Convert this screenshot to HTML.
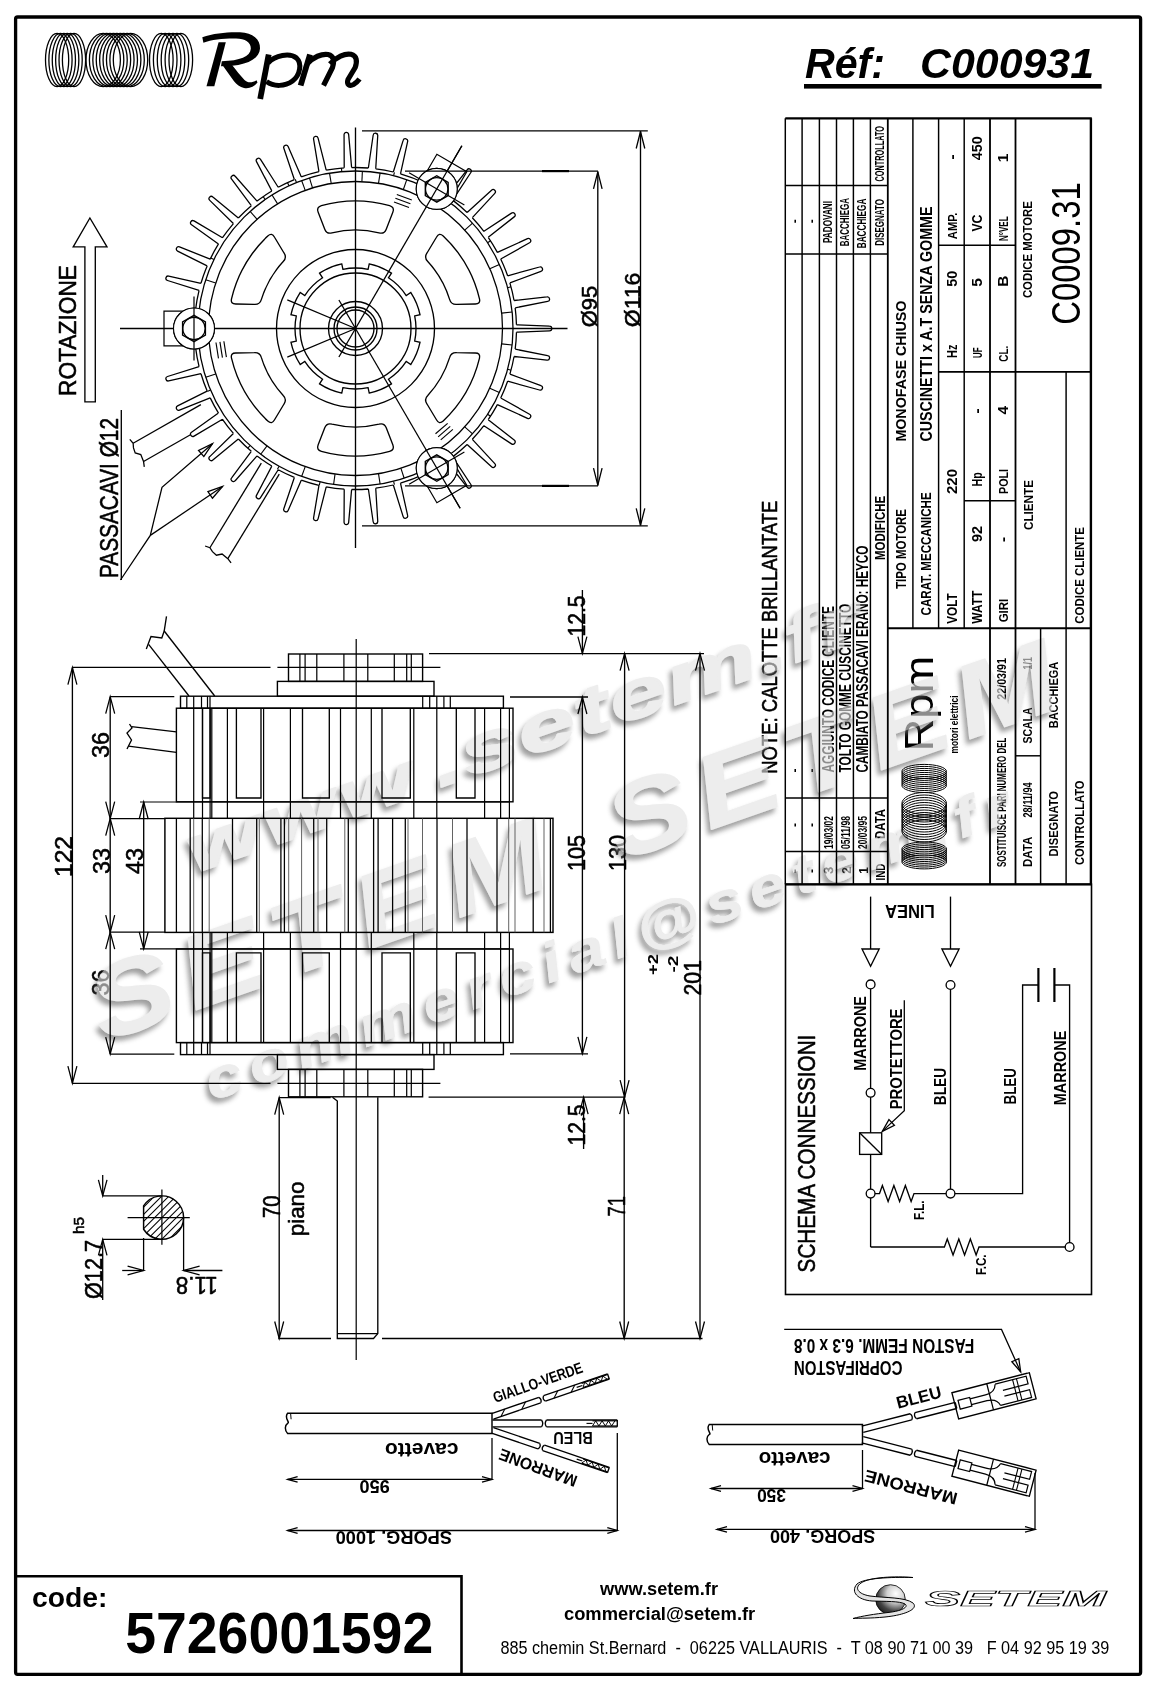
<!DOCTYPE html>
<html><head><meta charset="utf-8"><style>
html,body{margin:0;padding:0;background:#fff;}
body{width:1158px;height:1690px;overflow:hidden;}
svg{display:block;font-family:"Liberation Sans",sans-serif;will-change:transform;}
text{white-space:pre;}
</style></head><body>
<svg width="1158" height="1690" viewBox="0 0 1158 1690">
<defs>
<filter id="wm" x="-5%" y="-8%" width="110%" height="120%">
<feGaussianBlur in="SourceAlpha" stdDeviation="2.5" result="b"/>
<feOffset in="b" dx="-3" dy="4.5" result="o"/>
<feFlood flood-color="#646464"/>
<feComposite in2="o" operator="in" result="s"/>
<feGaussianBlur in="SourceGraphic" stdDeviation="0.5" result="g"/>
<feMerge><feMergeNode in="s"/><feMergeNode in="g"/></feMerge>
</filter>
</defs>
<rect width="1158" height="1690" fill="#fff"/>
<g>
<text x="805" y="78.3" font-size="42" font-weight="bold" font-style="italic" textLength="80" lengthAdjust="spacingAndGlyphs" fill="#000" stroke="none">Réf:</text>
<text x="920" y="78.3" font-size="42" font-weight="bold" font-style="italic" textLength="174" lengthAdjust="spacingAndGlyphs" fill="#000" stroke="none">C000931</text>
<text x="32" y="1606.7" font-size="28" font-weight="bold" textLength="75.4" lengthAdjust="spacingAndGlyphs" fill="#000" stroke="none">code:</text>
<text x="125.2" y="1653.2" font-size="58" font-weight="bold" textLength="308" lengthAdjust="spacingAndGlyphs" fill="#000" stroke="none">5726001592</text>
<text x="659" y="1594.9" font-size="18" font-weight="bold" text-anchor="middle" textLength="118" lengthAdjust="spacingAndGlyphs" fill="#000" stroke="none">www.setem.fr</text>
<text x="659.6" y="1619.7" font-size="18" font-weight="bold" text-anchor="middle" textLength="191.3" lengthAdjust="spacingAndGlyphs" fill="#000" stroke="none">commercial@setem.fr</text>
<text x="500.4" y="1654" font-size="18" textLength="609" lengthAdjust="spacingAndGlyphs" fill="#000" stroke="none">885 chemin St.Bernard  -  06225 VALLAURIS  -  T 08 90 71 00 39   F 04 92 95 19 39</text>
<text transform="translate(596.7 327.2) rotate(-90)" font-size="22" textLength="41.4" lengthAdjust="spacingAndGlyphs" fill="#000" stroke="#000" stroke-width="0.55" stroke-linejoin="round">Ø95</text>
<text transform="translate(639.5 327.2) rotate(-90)" font-size="22" textLength="54.5" lengthAdjust="spacingAndGlyphs" fill="#000" stroke="#000" stroke-width="0.55" stroke-linejoin="round">Ø116</text>
<text transform="translate(75.8 396) rotate(-90)" font-size="24.5" textLength="131" lengthAdjust="spacingAndGlyphs" fill="#000" stroke="#000" stroke-width="0.55" stroke-linejoin="round">ROTAZIONE</text>
<text transform="translate(117.5 578) rotate(-90)" font-size="25" textLength="160" lengthAdjust="spacingAndGlyphs" fill="#000" stroke="#000" stroke-width="0.55" stroke-linejoin="round">PASSACAVI Ø12</text>
<text transform="translate(799 221.2) rotate(-90)" font-size="12" font-weight="bold" text-anchor="middle" fill="#000" stroke="none">-</text>
<text transform="translate(816 221.2) rotate(-90)" font-size="12" font-weight="bold" text-anchor="middle" fill="#000" stroke="none">-</text>
<text transform="translate(832 243) rotate(-90)" font-size="12" font-weight="bold" textLength="42" lengthAdjust="spacingAndGlyphs" fill="#000" stroke="none">PADOVANI</text>
<text transform="translate(849.2 246.3) rotate(-90)" font-size="12.2" font-weight="bold" textLength="48.3" lengthAdjust="spacingAndGlyphs" fill="#000" stroke="none">BACCHIEGA</text>
<text transform="translate(866.2 248.3) rotate(-90)" font-size="12.2" font-weight="bold" textLength="49.7" lengthAdjust="spacingAndGlyphs" fill="#000" stroke="none">BACCHIEGA</text>
<text transform="translate(883.8 245.8) rotate(-90)" font-size="13" font-weight="bold" textLength="46.8" lengthAdjust="spacingAndGlyphs" fill="#000" stroke="none">DISEGNATO</text>
<text transform="translate(883.8 181.5) rotate(-90)" font-size="13.5" font-weight="bold" textLength="55.5" lengthAdjust="spacingAndGlyphs" fill="#000" stroke="none">CONTROLLATO</text>
<text transform="translate(799 770.5) rotate(-90)" font-size="12" font-weight="bold" text-anchor="middle" fill="#000" stroke="none">-</text>
<text transform="translate(799 825) rotate(-90)" font-size="12" font-weight="bold" text-anchor="middle" fill="#000" stroke="none">-</text>
<text transform="translate(799 871) rotate(-90)" font-size="12" font-weight="bold" text-anchor="middle" fill="#000" stroke="none">-</text>
<text transform="translate(816 770.5) rotate(-90)" font-size="12" font-weight="bold" text-anchor="middle" fill="#000" stroke="none">-</text>
<text transform="translate(816 825) rotate(-90)" font-size="12" font-weight="bold" text-anchor="middle" fill="#000" stroke="none">-</text>
<text transform="translate(816 871) rotate(-90)" font-size="12" font-weight="bold" text-anchor="middle" fill="#000" stroke="none">-</text>
<text transform="translate(833.7 772.5) rotate(-90)" font-size="15.8" font-weight="bold" textLength="166.3" lengthAdjust="spacingAndGlyphs" fill="#000" stroke="none">AGGIUNTO CODICE CLIENTE</text>
<text transform="translate(850.7 772.5) rotate(-90)" font-size="15.8" font-weight="bold" textLength="168.7" lengthAdjust="spacingAndGlyphs" fill="#000" stroke="none">TOLTO GOMME CUSCINETTO</text>
<text transform="translate(867.7 772.5) rotate(-90)" font-size="15.8" font-weight="bold" textLength="227" lengthAdjust="spacingAndGlyphs" fill="#000" stroke="none">CAMBIATO PASSACAVI ERANO: HEYCO</text>
<text transform="translate(884.7 560) rotate(-90)" font-size="15.2" font-weight="bold" textLength="64.2" lengthAdjust="spacingAndGlyphs" fill="#000" stroke="none">MODIFICHE</text>
<text transform="translate(833 849) rotate(-90)" font-size="12" font-weight="bold" textLength="33" lengthAdjust="spacingAndGlyphs" fill="#000" stroke="none">19/03/02</text>
<text transform="translate(850 849) rotate(-90)" font-size="12" font-weight="bold" textLength="33" lengthAdjust="spacingAndGlyphs" fill="#000" stroke="none">05/11/98</text>
<text transform="translate(867 849) rotate(-90)" font-size="12" font-weight="bold" textLength="33" lengthAdjust="spacingAndGlyphs" fill="#000" stroke="none">20/03/95</text>
<text transform="translate(884.7 839) rotate(-90)" font-size="15" font-weight="bold" textLength="30" lengthAdjust="spacingAndGlyphs" fill="#000" stroke="none">DATA</text>
<text transform="translate(833.3 870.5) rotate(-90)" font-size="12" text-anchor="middle" fill="#000" stroke="#000" stroke-width="0.55" stroke-linejoin="round">3</text>
<text transform="translate(850.5 870.5) rotate(-90)" font-size="12" font-weight="bold" text-anchor="middle" fill="#000" stroke="none">2</text>
<text transform="translate(867.5 870.5) rotate(-90)" font-size="12" font-weight="bold" text-anchor="middle" fill="#000" stroke="none">1</text>
<text transform="translate(884.7 880.5) rotate(-90)" font-size="13.5" font-weight="bold" textLength="17" lengthAdjust="spacingAndGlyphs" fill="#000" stroke="none">IND</text>
<text transform="translate(905.7 441.6) rotate(-90)" font-size="15.1" font-weight="bold" textLength="141" lengthAdjust="spacingAndGlyphs" fill="#000" stroke="none">MONOFASE CHIUSO</text>
<text transform="translate(905.7 589) rotate(-90)" font-size="15.1" font-weight="bold" textLength="80" lengthAdjust="spacingAndGlyphs" fill="#000" stroke="none">TIPO MOTORE</text>
<text transform="translate(932.2 441.6) rotate(-90)" font-size="16.6" font-weight="bold" textLength="235" lengthAdjust="spacingAndGlyphs" fill="#000" stroke="none">CUSCINETTI x A.T SENZA GOMME</text>
<text transform="translate(930.8 615.4) rotate(-90)" font-size="14" font-weight="bold" textLength="123" lengthAdjust="spacingAndGlyphs" fill="#000" stroke="none">CARAT. MECCANICHE</text>
<text transform="translate(956.5 623.7) rotate(-90)" font-size="15.5" font-weight="bold" textLength="30.4" lengthAdjust="spacingAndGlyphs" fill="#000" stroke="none">VOLT</text>
<text transform="translate(956.5 494) rotate(-90)" font-size="15.5" font-weight="bold" textLength="25" lengthAdjust="spacingAndGlyphs" fill="#000" stroke="none">220</text>
<text transform="translate(956.5 358) rotate(-90)" font-size="14" font-weight="bold" textLength="13.4" lengthAdjust="spacingAndGlyphs" fill="#000" stroke="none">Hz</text>
<text transform="translate(956.5 286.7) rotate(-90)" font-size="15.5" font-weight="bold" textLength="16" lengthAdjust="spacingAndGlyphs" fill="#000" stroke="none">50</text>
<text transform="translate(956.5 239.2) rotate(-90)" font-size="13.5" font-weight="bold" textLength="26.6" lengthAdjust="spacingAndGlyphs" fill="#000" stroke="none">AMP.</text>
<text transform="translate(956.5 157) rotate(-90)" font-size="15.5" font-weight="bold" text-anchor="middle" fill="#000" stroke="none">-</text>
<text transform="translate(982.3 623.7) rotate(-90)" font-size="14" font-weight="bold" textLength="33" lengthAdjust="spacingAndGlyphs" fill="#000" stroke="none">WATT</text>
<text transform="translate(982.3 542) rotate(-90)" font-size="15.5" font-weight="bold" textLength="16" lengthAdjust="spacingAndGlyphs" fill="#000" stroke="none">92</text>
<text transform="translate(982.3 486.5) rotate(-90)" font-size="14" font-weight="bold" textLength="14.3" lengthAdjust="spacingAndGlyphs" fill="#000" stroke="none">Hp</text>
<text transform="translate(982.3 411) rotate(-90)" font-size="15.5" font-weight="bold" text-anchor="middle" fill="#000" stroke="none">-</text>
<text transform="translate(982.3 358) rotate(-90)" font-size="13" font-weight="bold" textLength="10.5" lengthAdjust="spacingAndGlyphs" fill="#000" stroke="none">UF</text>
<text transform="translate(982.3 286.7) rotate(-90)" font-size="15.5" font-weight="bold" fill="#000" stroke="none">5</text>
<text transform="translate(982.3 231.6) rotate(-90)" font-size="14" font-weight="bold" textLength="17" lengthAdjust="spacingAndGlyphs" fill="#000" stroke="none">VC</text>
<text transform="translate(982.3 160.3) rotate(-90)" font-size="15.5" font-weight="bold" textLength="24" lengthAdjust="spacingAndGlyphs" fill="#000" stroke="none">450</text>
<text transform="translate(1007.5 622.3) rotate(-90)" font-size="13.5" font-weight="bold" textLength="23.5" lengthAdjust="spacingAndGlyphs" fill="#000" stroke="none">GIRI</text>
<text transform="translate(1007.5 539.4) rotate(-90)" font-size="15.5" font-weight="bold" text-anchor="middle" fill="#000" stroke="none">-</text>
<text transform="translate(1007.5 494) rotate(-90)" font-size="13.5" font-weight="bold" textLength="25" lengthAdjust="spacingAndGlyphs" fill="#000" stroke="none">POLI</text>
<text transform="translate(1007.5 414.5) rotate(-90)" font-size="15.5" font-weight="bold" fill="#000" stroke="none">4</text>
<text transform="translate(1007.5 361.7) rotate(-90)" font-size="13" font-weight="bold" textLength="16" lengthAdjust="spacingAndGlyphs" fill="#000" stroke="none">CL.</text>
<text transform="translate(1007.5 286.7) rotate(-90)" font-size="15.5" font-weight="bold" fill="#000" stroke="none">B</text>
<text transform="translate(1007.5 241) rotate(-90)" font-size="12.5" font-weight="bold" textLength="24.6" lengthAdjust="spacingAndGlyphs" fill="#000" stroke="none">N°VEL</text>
<text transform="translate(1007.5 162.2) rotate(-90)" font-size="15.5" font-weight="bold" fill="#000" stroke="none">1</text>
<text transform="translate(1032.8 530) rotate(-90)" font-size="13.5" font-weight="bold" textLength="50" lengthAdjust="spacingAndGlyphs" fill="#000" stroke="none">CLIENTE</text>
<text transform="translate(1084 623.7) rotate(-90)" font-size="13.5" font-weight="bold" textLength="96.7" lengthAdjust="spacingAndGlyphs" fill="#000" stroke="none">CODICE CLIENTE</text>
<text transform="translate(1032.2 298.1) rotate(-90)" font-size="12.8" font-weight="bold" textLength="97" lengthAdjust="spacingAndGlyphs" fill="#000" stroke="none">CODICE MOTORE</text>
<text transform="translate(1079.6 324.7) rotate(-90)" font-size="40" textLength="142.5" lengthAdjust="spacingAndGlyphs" fill="#000" stroke="none">C0009.31</text>
<text transform="translate(1006.3 867) rotate(-90)" font-size="12.3" font-weight="bold" textLength="129.3" lengthAdjust="spacingAndGlyphs" fill="#000" stroke="none">SOSTITUISCE PARI NUMERO DEL</text>
<text transform="translate(1006.3 699.8) rotate(-90)" font-size="12.3" font-weight="bold" textLength="41.8" lengthAdjust="spacingAndGlyphs" fill="#000" stroke="none">22/03/91</text>
<text transform="translate(1032 743.5) rotate(-90)" font-size="12.5" font-weight="bold" textLength="36.1" lengthAdjust="spacingAndGlyphs" fill="#000" stroke="none">SCALA</text>
<text transform="translate(1032 669.4) rotate(-90)" font-size="12.5" font-weight="bold" textLength="12.4" lengthAdjust="spacingAndGlyphs" fill="#000" stroke="none">1/1</text>
<text transform="translate(1032 867) rotate(-90)" font-size="12.5" font-weight="bold" textLength="30.4" lengthAdjust="spacingAndGlyphs" fill="#000" stroke="none">DATA</text>
<text transform="translate(1032 817.6) rotate(-90)" font-size="12.5" font-weight="bold" textLength="35.2" lengthAdjust="spacingAndGlyphs" fill="#000" stroke="none">28/11/94</text>
<text transform="translate(1057.8 728.3) rotate(-90)" font-size="12.5" font-weight="bold" textLength="66.5" lengthAdjust="spacingAndGlyphs" fill="#000" stroke="none">BACCHIEGA</text>
<text transform="translate(1057.8 856.5) rotate(-90)" font-size="12.5" font-weight="bold" textLength="65.5" lengthAdjust="spacingAndGlyphs" fill="#000" stroke="none">DISEGNATO</text>
<text transform="translate(1083.5 865) rotate(-90)" font-size="12.5" font-weight="bold" textLength="84.5" lengthAdjust="spacingAndGlyphs" fill="#000" stroke="none">CONTROLLATO</text>
<text transform="translate(776.7 773.7) rotate(-90)" font-size="22.8" textLength="273" lengthAdjust="spacingAndGlyphs" fill="#000" stroke="#000" stroke-width="0.55" stroke-linejoin="round">NOTE: CALOTTE BRILLANTATE</text>
<text transform="translate(932.5 751.5) rotate(-90)" font-size="41" textLength="96" lengthAdjust="spacingAndGlyphs" fill="#000" stroke="none">Rpm</text>
<text transform="translate(958 753.5) rotate(-90)" font-size="10" font-weight="bold" textLength="58" lengthAdjust="spacingAndGlyphs" fill="#000" stroke="none">motori elettrici</text>
<text transform="translate(71.5 877) rotate(-90)" font-size="24.5" textLength="41" lengthAdjust="spacingAndGlyphs" fill="#000" stroke="#000" stroke-width="0.55" stroke-linejoin="round">122</text>
<text transform="translate(109 758) rotate(-90)" font-size="24" textLength="26" lengthAdjust="spacingAndGlyphs" fill="#000" stroke="#000" stroke-width="0.55" stroke-linejoin="round">36</text>
<text transform="translate(109.5 874) rotate(-90)" font-size="24" textLength="26" lengthAdjust="spacingAndGlyphs" fill="#000" stroke="#000" stroke-width="0.55" stroke-linejoin="round">33</text>
<text transform="translate(109 995.5) rotate(-90)" font-size="24" textLength="26" lengthAdjust="spacingAndGlyphs" fill="#000" stroke="#000" stroke-width="0.55" stroke-linejoin="round">36</text>
<text transform="translate(142.6 874) rotate(-90)" font-size="24" textLength="26" lengthAdjust="spacingAndGlyphs" fill="#000" stroke="#000" stroke-width="0.55" stroke-linejoin="round">43</text>
<text transform="translate(585.2 871) rotate(-90)" font-size="24" textLength="36" lengthAdjust="spacingAndGlyphs" fill="#000" stroke="#000" stroke-width="0.55" stroke-linejoin="round">105</text>
<text transform="translate(625.8 871) rotate(-90)" font-size="24" textLength="36" lengthAdjust="spacingAndGlyphs" fill="#000" stroke="#000" stroke-width="0.55" stroke-linejoin="round">130</text>
<text transform="translate(584.8 636.5) rotate(-90)" font-size="24" textLength="41" lengthAdjust="spacingAndGlyphs" fill="#000" stroke="#000" stroke-width="0.55" stroke-linejoin="round">12.5</text>
<text transform="translate(701 995.5) rotate(-90)" font-size="24" textLength="35.5" lengthAdjust="spacingAndGlyphs" fill="#000" stroke="#000" stroke-width="0.55" stroke-linejoin="round">201</text>
<text transform="translate(657.8 975) rotate(-90)" font-size="15" font-weight="bold" textLength="21" lengthAdjust="spacingAndGlyphs" fill="#000" stroke="none">+2</text>
<text transform="translate(678 972.5) rotate(-90)" font-size="15" font-weight="bold" textLength="17" lengthAdjust="spacingAndGlyphs" fill="#000" stroke="none">-2</text>
<text transform="translate(584.8 1145.5) rotate(-90)" font-size="24" textLength="41" lengthAdjust="spacingAndGlyphs" fill="#000" stroke="#000" stroke-width="0.55" stroke-linejoin="round">12.5</text>
<text transform="translate(625.4 1216.5) rotate(-90)" font-size="24" textLength="20.5" lengthAdjust="spacingAndGlyphs" fill="#000" stroke="#000" stroke-width="0.55" stroke-linejoin="round">71</text>
<text transform="translate(280.4 1218) rotate(-90)" font-size="24" textLength="22.5" lengthAdjust="spacingAndGlyphs" fill="#000" stroke="#000" stroke-width="0.55" stroke-linejoin="round">70</text>
<text transform="translate(303.5 1236.3) rotate(-90)" font-size="22.5" textLength="54.8" lengthAdjust="spacingAndGlyphs" fill="#000" stroke="#000" stroke-width="0.55" stroke-linejoin="round">piano</text>
<text transform="translate(102 1299) rotate(-90)" font-size="24" textLength="59" lengthAdjust="spacingAndGlyphs" fill="#000" stroke="#000" stroke-width="0.55" stroke-linejoin="round">Ø12.7</text>
<text transform="translate(84 1234) rotate(-90)" font-size="15" textLength="17" lengthAdjust="spacingAndGlyphs" fill="#000" stroke="#000" stroke-width="0.55" stroke-linejoin="round">h5</text>
<text transform="translate(217.8 1277.2) rotate(180)" font-size="24" textLength="42" lengthAdjust="spacingAndGlyphs" fill="#000" stroke="#000" stroke-width="0.55" stroke-linejoin="round">11.8</text>
<text transform="translate(814.5 1272.4) rotate(-90)" font-size="24" textLength="237.7" lengthAdjust="spacingAndGlyphs" fill="#000" stroke="#000" stroke-width="0.55" stroke-linejoin="round">SCHEMA CONNESSIONI</text>
<text transform="translate(934.7 904.9) rotate(180)" font-size="18" font-weight="bold" textLength="49.7" lengthAdjust="spacingAndGlyphs" fill="#000" stroke="none">LINEA</text>
<text transform="translate(865.7 1070.7) rotate(-90)" font-size="16.5" font-weight="bold" textLength="74.7" lengthAdjust="spacingAndGlyphs" fill="#000" stroke="none">MARRONE</text>
<text transform="translate(901.6 1109.3) rotate(-90)" font-size="16.5" font-weight="bold" textLength="100.8" lengthAdjust="spacingAndGlyphs" fill="#000" stroke="none">PROTETTORE</text>
<text transform="translate(945.8 1105.2) rotate(-90)" font-size="16.5" font-weight="bold" textLength="37.2" lengthAdjust="spacingAndGlyphs" fill="#000" stroke="none">BLEU</text>
<text transform="translate(1016.3 1104.5) rotate(-90)" font-size="16.5" font-weight="bold" textLength="36.5" lengthAdjust="spacingAndGlyphs" fill="#000" stroke="none">BLEU</text>
<text transform="translate(1066 1105.2) rotate(-90)" font-size="16.5" font-weight="bold" textLength="74.6" lengthAdjust="spacingAndGlyphs" fill="#000" stroke="none">MARRONE</text>
<text transform="translate(923.7 1219.9) rotate(-90)" font-size="15" font-weight="bold" textLength="19.4" lengthAdjust="spacingAndGlyphs" fill="#000" stroke="none">F.L.</text>
<text transform="translate(985.9 1275.1) rotate(-90)" font-size="15" font-weight="bold" textLength="20.7" lengthAdjust="spacingAndGlyphs" fill="#000" stroke="none">F.C.</text>
<text transform="translate(495.2 1403) rotate(-19.3)" font-size="15.5" font-weight="bold" textLength="94" lengthAdjust="spacingAndGlyphs" fill="#000" stroke="none">GIALLO-VERDE</text>
<text transform="translate(592.7 1431.5) rotate(180)" font-size="16.5" font-weight="bold" textLength="39.5" lengthAdjust="spacingAndGlyphs" fill="#000" stroke="none">BLEU</text>
<text transform="translate(578.5 1476.6) rotate(200.2)" font-size="16.5" font-weight="bold" textLength="82" lengthAdjust="spacingAndGlyphs" fill="#000" stroke="none">MARRONE</text>
<text transform="translate(458.5 1442.7) rotate(180)" font-size="21" font-weight="bold" textLength="73.5" lengthAdjust="spacingAndGlyphs" fill="#000" stroke="none">cavetto</text>
<text transform="translate(389.8 1480.2) rotate(180)" font-size="18" font-weight="bold" textLength="30.3" lengthAdjust="spacingAndGlyphs" fill="#000" stroke="none">950</text>
<text transform="translate(452 1531.3) rotate(180)" font-size="18.5" font-weight="bold" textLength="116.5" lengthAdjust="spacingAndGlyphs" fill="#000" stroke="none">SPORG. 1000</text>
<text transform="translate(898 1408.8) rotate(-14.5)" font-size="17" font-weight="bold" textLength="46" lengthAdjust="spacingAndGlyphs" fill="#000" stroke="none">BLEU</text>
<text transform="translate(958.4 1493.5) rotate(194.5)" font-size="17" font-weight="bold" textLength="95" lengthAdjust="spacingAndGlyphs" fill="#000" stroke="none">MARRONE</text>
<text transform="translate(974.3 1338.6) rotate(180)" font-size="19.5" font-weight="bold" textLength="180.5" lengthAdjust="spacingAndGlyphs" fill="#000" stroke="none">FASTON FEMM. 6.3 x 0.8</text>
<text transform="translate(902.5 1361) rotate(180)" font-size="19.5" font-weight="bold" textLength="108.7" lengthAdjust="spacingAndGlyphs" fill="#000" stroke="none">COPRIFASTON</text>
<text transform="translate(830.6 1451.8) rotate(180)" font-size="21" font-weight="bold" textLength="72" lengthAdjust="spacingAndGlyphs" fill="#000" stroke="none">cavetto</text>
<text transform="translate(786 1489.2) rotate(180)" font-size="18" font-weight="bold" textLength="29" lengthAdjust="spacingAndGlyphs" fill="#000" stroke="none">350</text>
<text transform="translate(875.3 1530.2) rotate(180)" font-size="18.5" font-weight="bold" textLength="105.3" lengthAdjust="spacingAndGlyphs" fill="#000" stroke="none">SPORG. 400</text>
</g>
<g opacity="0.62" filter="url(#wm)">
<text transform="translate(195 873) rotate(-19.3) scale(1.2 0.8)" font-size="80" font-weight="bold" font-style="italic" fill="#e2e2e2" stroke="#e2e2e2" stroke-width="2.4" stroke-linejoin="round" textLength="196.67" lengthAdjust="spacing">www</text>
<text transform="translate(439.44 787.4) rotate(-19.3) scale(1.24 0.8)" font-size="84" font-weight="bold" font-style="italic" fill="#e2e2e2" stroke="#e2e2e2" stroke-width="2.4" stroke-linejoin="round" textLength="364.52" lengthAdjust="spacing">.setem.fr</text>
<text transform="translate(104 1042) rotate(-19.3) scale(1.12 0.93)" font-size="110" font-weight="bold" font-style="italic" fill="#e2e2e2" stroke="#e2e2e2" stroke-width="1.5" stroke-linejoin="round" textLength="426.79" lengthAdjust="spacing">SETEM</text>
<text transform="translate(621.2 860.88) rotate(-19.3) scale(1.12 0.93)" font-size="110" font-weight="bold" font-style="italic" fill="#e2e2e2" stroke="#e2e2e2" stroke-width="1.5" stroke-linejoin="round" textLength="419.64" lengthAdjust="spacing">SETEM</text>
<text transform="translate(212 1101) rotate(-19.3) scale(1.08 0.9)" font-size="61" font-weight="bold" font-style="italic" fill="#e2e2e2" stroke="#e2e2e2" stroke-width="0.8" stroke-linejoin="round" textLength="787.04" lengthAdjust="spacing">commercial@setem.fr</text>
</g>
<g fill="none" stroke="#000" stroke-width="1.3">
<rect x="15.6" y="17" width="1125" height="1657.3" stroke-width="3.3" rx="2"/>
<ellipse cx="57.1" cy="60" rx="11.6" ry="26.6" stroke-width="1.3"/>
<ellipse cx="60.48" cy="60" rx="11.6" ry="26.6" stroke-width="1.3"/>
<ellipse cx="63.86" cy="60" rx="11.6" ry="26.6" stroke-width="1.3"/>
<ellipse cx="67.24" cy="60" rx="11.6" ry="26.6" stroke-width="1.3"/>
<ellipse cx="70.62" cy="60" rx="11.6" ry="26.6" stroke-width="1.3"/>
<ellipse cx="74" cy="60" rx="11.6" ry="26.6" stroke-width="1.3"/>
<ellipse cx="103.2" cy="60" rx="17.2" ry="26.6" stroke-width="1.3"/>
<ellipse cx="106.61" cy="60" rx="17.2" ry="26.6" stroke-width="1.3"/>
<ellipse cx="110.03" cy="60" rx="17.2" ry="26.6" stroke-width="1.3"/>
<ellipse cx="113.44" cy="60" rx="17.2" ry="26.6" stroke-width="1.3"/>
<ellipse cx="116.85" cy="60" rx="17.2" ry="26.6" stroke-width="1.3"/>
<ellipse cx="120.26" cy="60" rx="17.2" ry="26.6" stroke-width="1.3"/>
<ellipse cx="123.67" cy="60" rx="17.2" ry="26.6" stroke-width="1.3"/>
<ellipse cx="127.09" cy="60" rx="17.2" ry="26.6" stroke-width="1.3"/>
<ellipse cx="130.5" cy="60" rx="17.2" ry="26.6" stroke-width="1.3"/>
<ellipse cx="161.3" cy="60" rx="11.8" ry="26.6" stroke-width="1.3"/>
<ellipse cx="165.2" cy="60" rx="11.8" ry="26.6" stroke-width="1.3"/>
<ellipse cx="169.1" cy="60" rx="11.8" ry="26.6" stroke-width="1.3"/>
<ellipse cx="173" cy="60" rx="11.8" ry="26.6" stroke-width="1.3"/>
<ellipse cx="176.9" cy="60" rx="11.8" ry="26.6" stroke-width="1.3"/>
<ellipse cx="180.8" cy="60" rx="11.8" ry="26.6" stroke-width="1.3"/>
<g fill="#000" stroke="none">
<path d="M218.6 42.2L225.8 42.2L214.3 86.2L206.5 86.2Z"/>
<path d="M203.4 42.8L202.3 37.2C214 33 228 31.8 240 32.2C253 32.8 260.5 39.5 260 48.5C259.5 57.5 250 64 232 65.8L221 66.3L221.8 61.2C240 60.8 250.3 56.5 250.8 48.8C251.2 42.3 245 38.8 236 38.6C224 38.4 212 39.6 203.4 42.8Z"/>
<path d="M222 64.5L231 63.8C236 70 240.5 76 244.5 80C248 83.2 252 82.8 256.5 80.2L257.5 82.6C254 87 249 89 244 88C240 87.2 236.5 84.5 234 81.3Z"/>
</g>
<g stroke-width="5.8" stroke-linecap="butt" stroke-linejoin="round">
<path d="M268.7 54.5L260.2 99"/>
<path d="M268 63C275 55 290 52.5 296.5 58C302 63 300.5 75 292.5 81C285 86.5 274 87 266.5 81.5" stroke-width="5"/>
<path d="M310 54.5L300.6 85.5"/>
<path d="M307 64C313 57 322 53.5 328 54.5C334 55.8 334.5 61 332.5 67.5L323.5 85.5" stroke-width="5.2"/>
<path d="M330 64C336 57 345 53 351 54.3C357 55.8 357.3 61 355.2 67.5L348 79.5C346.3 84.5 349.5 86.5 353.5 84.5C356.3 83 358 81 359.5 79" stroke-width="5.2"/>
</g>
<rect x="804" y="84" width="297.6" height="4.6" fill="#000" stroke="none"/>
<polyline points="15.6,1576.2 461.5,1576.2 461.5,1674" stroke-width="2.6"/>
<defs><radialGradient id="sph" cx="0.68" cy="0.3" r="0.85"><stop offset="0" stop-color="#fff"/><stop offset="0.35" stop-color="#d0d0d0"/><stop offset="0.7" stop-color="#444"/><stop offset="1" stop-color="#111"/></radialGradient></defs>
<circle cx="890.5" cy="1599.5" r="14.8" fill="url(#sph)" stroke="#000" stroke-width="0.8"/>
<path d="M913 1577.5C895 1576 870 1577 861 1583C854 1588 858 1594 870 1596C885 1598 905 1597 913 1603C919 1609 905 1615 885 1617C870 1618.5 860 1618 853 1618.5C862 1616 875 1614 888 1612.5C902 1611 909 1607 905 1604C900 1601 885 1601.5 872 1601C858 1600 850 1592 857 1584C864 1578 890 1577 913 1577.5Z" fill="#e4e4e4" stroke="#000" stroke-width="1"/>
<text x="925" y="1606.5" font-size="27" font-weight="bold" font-style="italic" fill="#fff" stroke="#000" stroke-width="0.9" textLength="181" lengthAdjust="spacingAndGlyphs" transform="translate(925 1606.5) scale(1 0.82) translate(-925 -1606.5)">SETEM</text>
<path d="M368.37 167.97L373.15 135.29A2.3 2.3 0 0 1 377.73 135.76L375.73 168.73M393.32 171.96L403.16 140.43A2.3 2.3 0 0 1 407.61 141.61L400.47 173.86M446.68 195.75L467.12 169.81A2.3 2.3 0 0 1 470.85 172.5L452.68 200.08M467.13 212.43L491.54 190.17A2.3 2.3 0 0 1 494.78 193.43L472.35 217.68M483.92 231.32L511.5 213.15A2.3 2.3 0 0 1 514.19 216.88L488.25 237.32M497.41 252.36L527.47 238.68A2.3 2.3 0 0 1 529.55 242.78L500.75 258.96M507.66 275.76L539.51 267.01A2.3 2.3 0 0 1 540.92 271.39L509.92 282.81M514.09 300.49L546.92 296.88A2.3 2.3 0 0 1 547.62 301.43L515.21 307.8M516.5 324.8L549.5 326.2A2.3 2.3 0 0 1 549.5 330.8L516.5 332.2M515.21 349.2L547.62 355.57A2.3 2.3 0 0 1 546.92 360.12L514.09 356.51M509.92 374.19L540.92 385.61A2.3 2.3 0 0 1 539.51 389.99L507.66 381.24M500.75 398.04L529.55 414.22A2.3 2.3 0 0 1 527.47 418.32L497.41 404.64M488.25 419.68L514.19 440.12A2.3 2.3 0 0 1 511.5 443.85L483.92 425.68M472.35 439.32L494.78 463.57A2.3 2.3 0 0 1 491.54 466.83L467.13 444.57M452.68 456.92L470.85 484.5A2.3 2.3 0 0 1 467.12 487.19L446.68 461.25M400.47 483.14L407.61 515.39A2.3 2.3 0 0 1 403.16 516.57L393.32 485.04M375.73 488.27L377.73 521.24A2.3 2.3 0 0 1 373.15 521.71L368.37 489.03M351.61 489.5L348.66 522.39A2.3 2.3 0 0 1 344.06 522.18L344.22 489.15M326.2 486.85L318.08 518.87A2.3 2.3 0 0 1 313.58 517.93L318.95 485.34M301.26 480.13L288.12 510.44A2.3 2.3 0 0 1 283.83 508.79L294.35 477.48M278.2 469.78L260.49 497.66A2.3 2.3 0 0 1 256.51 495.36L271.8 466.08M257.05 455.95L235.2 480.71A2.3 2.3 0 0 1 231.62 477.82L251.3 451.29M238.33 438.98L212.87 460.02A2.3 2.3 0 0 1 209.79 456.6L233.38 433.48M222.49 419.29L194.05 436.09A2.3 2.3 0 0 1 191.55 432.23L218.46 413.08M210.17 397.87L179.49 410.12A2.3 2.3 0 0 1 177.61 405.93L207.13 391.12M200.94 373.74L168.71 380.93A2.3 2.3 0 0 1 167.52 376.49L199.03 366.6M199.03 290.4L167.52 280.51A2.3 2.3 0 0 1 168.71 276.07L200.94 283.26M207.13 265.88L177.61 251.07A2.3 2.3 0 0 1 179.49 246.88L210.17 259.13M218.46 243.92L191.55 224.77A2.3 2.3 0 0 1 194.05 220.91L222.49 237.71M233.38 223.52L209.79 200.4A2.3 2.3 0 0 1 212.87 196.98L238.33 218.02M251.3 205.71L231.62 179.18A2.3 2.3 0 0 1 235.2 176.29L257.05 201.05M271.8 190.92L256.51 161.64A2.3 2.3 0 0 1 260.49 159.34L278.2 187.22M294.35 179.52L283.83 148.21A2.3 2.3 0 0 1 288.12 146.56L301.26 176.87M318.95 171.66L313.58 139.07A2.3 2.3 0 0 1 318.08 138.13L326.2 170.15M344.22 167.85L344.06 134.82A2.3 2.3 0 0 1 348.66 134.61L351.61 167.5M375.73 168.78A161 161 0 0 1 393.31 172M400.46 173.91A161 161 0 0 1 446.65 195.79M452.65 200.12A161 161 0 0 1 467.1 212.46M472.32 217.71A161 161 0 0 1 483.88 231.35M488.21 237.35A161 161 0 0 1 497.37 252.38M500.72 258.98A161 161 0 0 1 507.62 275.77M509.88 282.82A161 161 0 0 1 514.05 300.5M515.17 307.81A161 161 0 0 1 516.46 324.8M516.46 332.2A161 161 0 0 1 515.17 349.19M514.05 356.5A161 161 0 0 1 509.88 374.18M507.62 381.23A161 161 0 0 1 500.72 398.02M497.37 404.62A161 161 0 0 1 488.21 419.65M483.88 425.65A161 161 0 0 1 472.32 439.29M467.1 444.54A161 161 0 0 1 452.65 456.88M446.65 461.21A161 161 0 0 1 400.46 483.09M393.31 485A161 161 0 0 1 375.73 488.22M368.37 488.99A161 161 0 0 1 351.61 489.45M344.22 489.1A161 161 0 0 1 326.21 486.81M318.96 485.3A161 161 0 0 1 301.27 480.09M294.36 477.44A161 161 0 0 1 278.23 469.74M271.82 466.04A161 161 0 0 1 257.08 455.92M251.33 451.26A161 161 0 0 1 238.36 438.95M233.41 433.45A161 161 0 0 1 222.52 419.27M218.49 413.06A161 161 0 0 1 210.2 397.85M207.17 391.11A161 161 0 0 1 200.98 373.73M199.07 366.59A161 161 0 0 1 199.07 290.41M200.98 283.27A161 161 0 0 1 207.17 265.89M210.2 259.15A161 161 0 0 1 218.49 243.94M222.52 237.73A161 161 0 0 1 233.41 223.55M238.36 218.05A161 161 0 0 1 251.33 205.74M257.08 201.08A161 161 0 0 1 271.82 190.96M278.23 187.26A161 161 0 0 1 294.36 179.56M301.27 176.91A161 161 0 0 1 318.96 171.7M326.21 170.19A161 161 0 0 1 344.22 167.9M351.61 167.55A161 161 0 0 1 368.37 168.01" stroke-width="1.28"/>
<circle cx="355.5" cy="328.5" r="157.5" stroke-width="1.28"/>
<circle cx="355.5" cy="328.5" r="147" stroke-width="1.28"/>
<line x1="277.6" y1="203.84" x2="272.04" y2="194.93" stroke-width="1.1"/>
<line x1="305.22" y1="190.37" x2="301.63" y2="180.5" stroke-width="1.1"/>
<line x1="331.24" y1="183.52" x2="329.51" y2="173.16" stroke-width="1.1"/>
<line x1="361.91" y1="181.64" x2="362.37" y2="171.15" stroke-width="1.1"/>
<line x1="378.5" y1="183.31" x2="380.14" y2="172.94" stroke-width="1.1"/>
<line x1="403.36" y1="189.51" x2="406.78" y2="179.58" stroke-width="1.1"/>
<line x1="464.74" y1="230.14" x2="472.55" y2="223.11" stroke-width="1.1"/>
<line x1="489.79" y1="268.71" x2="499.38" y2="264.44" stroke-width="1.1"/>
<line x1="501.69" y1="313.13" x2="512.14" y2="312.04" stroke-width="1.1"/>
<line x1="501.69" y1="343.87" x2="512.14" y2="344.96" stroke-width="1.1"/>
<line x1="489.79" y1="388.29" x2="499.38" y2="392.56" stroke-width="1.1"/>
<line x1="464.74" y1="426.86" x2="472.55" y2="433.89" stroke-width="1.1"/>
<line x1="400.93" y1="468.31" x2="404.17" y2="478.29" stroke-width="1.1"/>
<line x1="378.5" y1="473.69" x2="380.14" y2="484.06" stroke-width="1.1"/>
<line x1="335.04" y1="474.07" x2="333.58" y2="484.47" stroke-width="1.1"/>
<line x1="305.22" y1="466.63" x2="301.63" y2="476.5" stroke-width="1.1"/>
<line x1="267.03" y1="445.9" x2="260.71" y2="454.29" stroke-width="1.1"/>
<line x1="215.69" y1="373.93" x2="205.71" y2="377.17" stroke-width="1.1"/>
<line x1="215.69" y1="283.07" x2="205.71" y2="279.83" stroke-width="1.1"/>
<line x1="257.14" y1="219.26" x2="250.11" y2="211.45" stroke-width="1.1"/>
<line x1="312.52" y1="187.92" x2="309.45" y2="177.88" stroke-width="1.1"/>
<line x1="288.94" y1="185.76" x2="287.46" y2="182.58" stroke-width="1.1"/>
<line x1="341.77" y1="171.6" x2="341.47" y2="168.11" stroke-width="1.1"/>
<line x1="393.6" y1="175.68" x2="394.45" y2="172.28" stroke-width="1.1"/>
<line x1="487.59" y1="242.72" x2="490.53" y2="240.81" stroke-width="1.1"/>
<line x1="507.63" y1="287.74" x2="511.01" y2="286.83" stroke-width="1.1"/>
<line x1="507.63" y1="369.26" x2="511.01" y2="370.17" stroke-width="1.1"/>
<line x1="487.59" y1="414.28" x2="490.53" y2="416.19" stroke-width="1.1"/>
<line x1="393.6" y1="481.32" x2="394.45" y2="484.72" stroke-width="1.1"/>
<line x1="320.07" y1="481.96" x2="319.28" y2="485.37" stroke-width="1.1"/>
<line x1="279.14" y1="466.25" x2="277.45" y2="469.31" stroke-width="1.1"/>
<line x1="250.11" y1="445.55" x2="247.77" y2="448.15" stroke-width="1.1"/>
<line x1="210.52" y1="390.04" x2="207.3" y2="391.41" stroke-width="1.1"/>
<line x1="213.94" y1="259.46" x2="210.79" y2="257.92" stroke-width="1.1"/>
<line x1="265.16" y1="199.48" x2="263.15" y2="196.62" stroke-width="1.1"/>
<line x1="296.5" y1="182.47" x2="295.19" y2="179.22" stroke-width="1.1"/>
<path d="M321.37 205.65A127.5 127.5 0 0 1 389.63 205.65Q394.9 207.24 392.82 212.35L386.24 229.15Q384.3 234.3 379 232.84A98.5 98.5 0 0 0 332 232.84Q326.7 234.3 324.76 229.15L318.18 212.35Q316.1 207.24 321.37 205.65Z" stroke-width="1.34"/>
<path d="M389.63 451.35A127.5 127.5 0 0 1 321.37 451.35Q316.1 449.76 318.18 444.65L324.76 427.85Q326.7 422.7 332 424.16A98.5 98.5 0 0 0 379 424.16Q384.3 422.7 386.24 427.85L392.82 444.65Q394.9 449.76 389.63 451.35Z" stroke-width="1.34"/>
<path d="M443.22 235.97A127.5 127.5 0 0 1 479.49 298.8Q480.66 304.17 475.02 304.03L456.66 304.34Q451.07 304.67 449.6 299.37A98.5 98.5 0 0 0 427.77 261.57Q423.92 257.65 427 252.97L436.45 237.22Q439.15 232.27 443.22 235.97Z" stroke-width="1.34"/>
<path d="M479.49 358.2A127.5 127.5 0 0 1 443.22 421.03Q439.15 424.73 436.45 419.78L427 404.03Q423.92 399.35 427.77 395.43A98.5 98.5 0 0 0 449.6 357.63Q451.07 352.33 456.66 352.66L475.02 352.97Q480.66 352.83 479.49 358.2Z" stroke-width="1.34"/>
<path d="M267.78 421.03A127.5 127.5 0 0 1 231.51 358.2Q230.34 352.83 235.98 352.97L254.34 352.66Q259.93 352.33 261.4 357.63A98.5 98.5 0 0 0 283.23 395.43Q287.08 399.35 284 404.03L274.55 419.78Q271.85 424.73 267.78 421.03Z" stroke-width="1.34"/>
<path d="M231.51 298.8A127.5 127.5 0 0 1 267.78 235.97Q271.85 232.27 274.55 237.22L284 252.97Q287.08 257.65 283.23 261.57A98.5 98.5 0 0 0 261.4 299.37Q259.93 304.67 254.34 304.34L235.98 304.03Q230.34 304.17 231.51 298.8Z" stroke-width="1.34"/>
<circle cx="355.5" cy="328.5" r="79" stroke-width="1.34"/>
<circle cx="355.5" cy="328.5" r="55.5" stroke-width="1.34"/>
<path d="M342.92 269.32A60.5 60.5 0 0 1 368.08 269.32L369.22 263.94A66 66 0 0 1 391.45 273.15L388.45 277.76A60.5 60.5 0 0 1 406.24 295.55L410.85 292.55A66 66 0 0 1 420.06 314.78L414.68 315.92A60.5 60.5 0 0 1 414.68 341.08L420.06 342.22A66 66 0 0 1 410.85 364.45L406.24 361.45A60.5 60.5 0 0 1 388.45 379.24L391.45 383.85A66 66 0 0 1 369.22 393.06L368.08 387.68A60.5 60.5 0 0 1 342.92 387.68L341.78 393.06A66 66 0 0 1 319.55 383.85L322.55 379.24A60.5 60.5 0 0 1 304.76 361.45L300.15 364.45A66 66 0 0 1 290.94 342.22L296.32 341.08A60.5 60.5 0 0 1 296.32 315.92L290.94 314.78A66 66 0 0 1 300.15 292.55L304.76 295.55A60.5 60.5 0 0 1 322.55 277.76L319.55 273.15A66 66 0 0 1 341.78 263.94Z" stroke-width="1.34"/>
<circle cx="355.5" cy="328.5" r="27" stroke-width="1.34"/>
<circle cx="355.5" cy="328.5" r="21.5" stroke-width="1.34"/>
<circle cx="355.5" cy="328.5" r="18.5" stroke-width="1.34"/>
<line x1="120" y1="328.5" x2="567.5" y2="328.5" stroke-width="1.34"/>
<line x1="355.5" y1="127.5" x2="355.5" y2="548" stroke-width="1.34"/>
<line x1="355.5" y1="328.5" x2="287.28" y2="299.82" stroke-width="1.28"/>
<line x1="355.5" y1="328.5" x2="287.28" y2="357.18" stroke-width="1.28"/>
<line x1="461.89" y1="145.71" x2="338.9" y2="357.02" stroke-width="1.28"/>
<circle cx="436.74" cy="188.92" r="20.5" fill="#fff" stroke-width="1.1"/>
<polyline points="422.79,178.49 436.88,154.29 466.78,171.69 452.7,195.89" stroke-width="1.22"/>
<circle cx="436.74" cy="188.92" r="20.5" fill="#fff" stroke-width="1.1"/>
<polygon points="436.74,202.12 425.31,195.52 425.31,182.32 436.74,175.72 448.17,182.32 448.17,195.52" stroke-width="1.34"/>
<circle cx="436.74" cy="188.92" r="11.2" stroke-width="1.22"/>
<line x1="409.08" y1="172.82" x2="464.39" y2="205.02" stroke-width="1.22"/>
<line x1="461.89" y1="145.71" x2="425.92" y2="207.5" stroke-width="1.28"/>
<line x1="394.01" y1="201.99" x2="409.01" y2="207.57" stroke-width="1.16"/>
<line x1="395.41" y1="198.24" x2="410.4" y2="203.82" stroke-width="1.16"/>
<line x1="396.8" y1="194.49" x2="411.8" y2="200.07" stroke-width="1.16"/>
<line x1="460.13" y1="508.27" x2="338.9" y2="299.98" stroke-width="1.28"/>
<circle cx="436.74" cy="468.08" r="20.5" fill="#fff" stroke-width="1.1"/>
<polyline points="452.7,461.11 466.78,485.31 436.88,502.71 422.79,478.51" stroke-width="1.22"/>
<circle cx="436.74" cy="468.08" r="20.5" fill="#fff" stroke-width="1.1"/>
<polygon points="436.74,481.28 425.31,474.68 425.31,461.48 436.74,454.88 448.17,461.48 448.17,474.68" stroke-width="1.34"/>
<circle cx="436.74" cy="468.08" r="11.2" stroke-width="1.22"/>
<line x1="464.39" y1="451.98" x2="409.08" y2="484.18" stroke-width="1.22"/>
<line x1="460.13" y1="508.27" x2="425.92" y2="449.5" stroke-width="1.28"/>
<line x1="447.64" y1="423.36" x2="435.51" y2="433.79" stroke-width="1.16"/>
<line x1="450.25" y1="426.39" x2="438.12" y2="436.82" stroke-width="1.16"/>
<line x1="452.86" y1="429.42" x2="440.73" y2="439.86" stroke-width="1.16"/>
<circle cx="194" cy="328.5" r="20.5" fill="#fff" stroke-width="1.1"/>
<polyline points="192,345.8 164,345.8 164,311.2 192,311.2" stroke-width="1.22"/>
<circle cx="194" cy="328.5" r="20.5" fill="#fff" stroke-width="1.1"/>
<polygon points="194,341.7 182.57,335.1 182.57,321.9 194,315.3 205.43,321.9 205.43,335.1" stroke-width="1.34"/>
<circle cx="194" cy="328.5" r="11.2" stroke-width="1.22"/>
<line x1="194" y1="360.5" x2="194" y2="296.5" stroke-width="1.22"/>
<line x1="226.38" y1="357.05" x2="223.87" y2="341.25" stroke-width="1.16"/>
<line x1="222.43" y1="357.68" x2="219.92" y2="341.87" stroke-width="1.16"/>
<line x1="218.48" y1="358.3" x2="215.97" y2="342.5" stroke-width="1.16"/>
<line x1="190.45" y1="434.73" x2="143.54" y2="461.49" stroke-width="1.28"/>
<line x1="200.89" y1="404.6" x2="133.14" y2="443.24" stroke-width="1.28"/>
<polyline points="144.28,466.82 143.54,461.49 140.77,454.61 135.22,452.94 133.48,447.88 133.14,443.24 129.79,439.4" stroke-width="1.28"/>
<line x1="279.27" y1="474.09" x2="227.84" y2="558.68" stroke-width="1.28"/>
<line x1="261.33" y1="463.18" x2="209.89" y2="547.77" stroke-width="1.28"/>
<polyline points="231.07,562.98 227.84,558.68 222.08,554 216.41,555.24 212.44,551.66 209.89,547.77 205.1,546.02" stroke-width="1.28"/>
<line x1="362" y1="130.8" x2="647.8" y2="130.8" stroke-width="1.34"/>
<line x1="362" y1="525.8" x2="647.8" y2="525.8" stroke-width="1.34"/>
<line x1="640.5" y1="131" x2="640.5" y2="525.5" stroke-width="1.34"/>
<polyline points="644.8,148.5 640.5,131.5 636.2,148.5"/>
<polyline points="636.2,508.3 640.5,525.3 644.8,508.3"/>
<line x1="405" y1="171.1" x2="598" y2="171.1" stroke-width="1.34"/>
<line x1="542" y1="171.1" x2="569" y2="171.1" stroke-width="2.2"/>
<line x1="405" y1="485.9" x2="598" y2="485.9" stroke-width="1.34"/>
<line x1="542" y1="485.9" x2="569" y2="485.9" stroke-width="2.2"/>
<line x1="597.8" y1="171.3" x2="597.8" y2="485.7" stroke-width="1.34"/>
<polyline points="602.1,188.8 597.8,171.8 593.5,188.8"/>
<polyline points="593.5,468.2 597.8,485.2 602.1,468.2"/>
<polygon points="84.9,401.8 84.9,246.9 73.2,246.9 89.9,218 107,246.9 95.3,246.9 95.3,401.8" stroke-width="1.34"/>
<line x1="121.3" y1="410" x2="121.3" y2="580" stroke-width="1.34"/>
<polyline points="120.5,580 150.3,535.4 162,487.3 212.5,443.7" stroke-width="1.28"/>
<line x1="150.3" y1="535.4" x2="222.6" y2="486.5" stroke-width="1.28"/>
<polygon points="203.76,456.53 212.5,443.7 198.53,450.47" stroke-width="1.28" fill="none"/>
<polygon points="212.42,498.22 222.6,486.5 207.93,491.59" stroke-width="1.28" fill="none"/>
<line x1="785.3" y1="118.3" x2="1091.8" y2="118.3" stroke-width="2.2"/>
<line x1="785.3" y1="884.3" x2="1091.8" y2="884.3" stroke-width="2.2"/>
<line x1="1090.9" y1="118.3" x2="1090.9" y2="884.3" stroke-width="2.4"/>
<line x1="785.3" y1="118.3" x2="785.3" y2="884.3" stroke-width="1.46"/>
<line x1="802.1" y1="118.3" x2="802.1" y2="884.3" stroke-width="1.46"/>
<line x1="819.4" y1="118.3" x2="819.4" y2="884.3" stroke-width="1.46"/>
<line x1="836.5" y1="118.3" x2="836.5" y2="884.3" stroke-width="1.46"/>
<line x1="853.4" y1="118.3" x2="853.4" y2="884.3" stroke-width="1.46"/>
<line x1="870.4" y1="118.3" x2="870.4" y2="884.3" stroke-width="1.46"/>
<line x1="887.8" y1="118.3" x2="887.8" y2="884.3" stroke-width="1.8"/>
<line x1="912.9" y1="118.3" x2="912.9" y2="628.3" stroke-width="1.46"/>
<line x1="938.6" y1="118.3" x2="938.6" y2="628.3" stroke-width="1.46"/>
<line x1="964.2" y1="118.3" x2="964.2" y2="628.3" stroke-width="1.46"/>
<line x1="990" y1="118.3" x2="990" y2="884.3" stroke-width="1.83"/>
<line x1="1015.5" y1="118.3" x2="1015.5" y2="884.3" stroke-width="1.8"/>
<line x1="1040.6" y1="628.3" x2="1040.6" y2="884.3" stroke-width="1.46"/>
<line x1="1066.1" y1="371.8" x2="1066.1" y2="884.3" stroke-width="1.46"/>
<line x1="785.3" y1="185.4" x2="887.8" y2="185.4" stroke-width="1.46"/>
<line x1="785.3" y1="254" x2="887.8" y2="254" stroke-width="1.46"/>
<line x1="785.3" y1="798" x2="887.8" y2="798" stroke-width="1.46"/>
<line x1="785.3" y1="851.5" x2="887.8" y2="851.5" stroke-width="1.46"/>
<line x1="938.6" y1="245.3" x2="1015.5" y2="245.3" stroke-width="1.46"/>
<line x1="938.6" y1="371.8" x2="1091" y2="371.8" stroke-width="1.71"/>
<line x1="964.2" y1="500.7" x2="1015.5" y2="500.7" stroke-width="1.46"/>
<line x1="887.8" y1="628.3" x2="1091" y2="628.3" stroke-width="2"/>
<line x1="1015.5" y1="755.8" x2="1040.6" y2="755.8" stroke-width="1.46"/>
<g transform="translate(0 0)">
<ellipse cx="924.2" cy="771.4" rx="22.3" ry="7" stroke-width="1"/>
<ellipse cx="924.2" cy="773.41" rx="22.3" ry="7" stroke-width="1"/>
<ellipse cx="924.2" cy="775.43" rx="22.3" ry="7" stroke-width="1"/>
<ellipse cx="924.2" cy="777.44" rx="22.3" ry="7" stroke-width="1"/>
<ellipse cx="924.2" cy="779.46" rx="22.3" ry="7" stroke-width="1"/>
<ellipse cx="924.2" cy="781.47" rx="22.3" ry="7" stroke-width="1"/>
<ellipse cx="924.2" cy="783.49" rx="22.3" ry="7" stroke-width="1"/>
<ellipse cx="924.2" cy="785.5" rx="22.3" ry="7" stroke-width="1"/>
<ellipse cx="924.2" cy="803.5" rx="22.3" ry="11" stroke-width="1"/>
<ellipse cx="924.2" cy="806" rx="22.3" ry="11" stroke-width="1"/>
<ellipse cx="924.2" cy="808.5" rx="22.3" ry="11" stroke-width="1"/>
<ellipse cx="924.2" cy="811" rx="22.3" ry="11" stroke-width="1"/>
<ellipse cx="924.2" cy="813.5" rx="22.3" ry="11" stroke-width="1"/>
<ellipse cx="924.2" cy="816" rx="22.3" ry="11" stroke-width="1"/>
<ellipse cx="924.2" cy="818.5" rx="22.3" ry="11" stroke-width="1"/>
<ellipse cx="924.2" cy="821" rx="22.3" ry="11" stroke-width="1"/>
<ellipse cx="924.2" cy="823.5" rx="22.3" ry="11" stroke-width="1"/>
<ellipse cx="924.2" cy="826" rx="22.3" ry="11" stroke-width="1"/>
<ellipse cx="924.2" cy="828.5" rx="22.3" ry="11" stroke-width="1"/>
<ellipse cx="924.2" cy="831" rx="22.3" ry="11" stroke-width="1"/>
<ellipse cx="924.2" cy="849" rx="22.3" ry="7" stroke-width="1"/>
<ellipse cx="924.2" cy="850.84" rx="22.3" ry="7" stroke-width="1"/>
<ellipse cx="924.2" cy="852.69" rx="22.3" ry="7" stroke-width="1"/>
<ellipse cx="924.2" cy="854.53" rx="22.3" ry="7" stroke-width="1"/>
<ellipse cx="924.2" cy="856.37" rx="22.3" ry="7" stroke-width="1"/>
<ellipse cx="924.2" cy="858.21" rx="22.3" ry="7" stroke-width="1"/>
<ellipse cx="924.2" cy="860.06" rx="22.3" ry="7" stroke-width="1"/>
<ellipse cx="924.2" cy="861.9" rx="22.3" ry="7" stroke-width="1"/>
</g>
<rect x="288.5" y="654" width="134.1" height="27.4" stroke-width="1.4"/>
<line x1="299.9" y1="654" x2="299.9" y2="681.4" stroke-width="1.22"/>
<line x1="305.1" y1="654" x2="305.1" y2="681.4" stroke-width="1.22"/>
<line x1="316.8" y1="654" x2="316.8" y2="681.4" stroke-width="1.22"/>
<line x1="343.9" y1="654" x2="343.9" y2="681.4" stroke-width="1.22"/>
<line x1="367.8" y1="654" x2="367.8" y2="681.4" stroke-width="1.22"/>
<line x1="394.3" y1="654" x2="394.3" y2="681.4" stroke-width="1.22"/>
<line x1="406.7" y1="654" x2="406.7" y2="681.4" stroke-width="1.22"/>
<line x1="411.3" y1="654" x2="411.3" y2="681.4" stroke-width="1.22"/>
<rect x="277.4" y="681.4" width="156.6" height="14.8" stroke-width="1.4"/>
<rect x="180.5" y="696.2" width="322.9" height="12" stroke-width="1.4"/>
<line x1="186.8" y1="696.2" x2="186.8" y2="708.2" stroke-width="1.22"/>
<line x1="193.7" y1="696.2" x2="193.7" y2="708.2" stroke-width="1.22"/>
<line x1="201.5" y1="696.2" x2="201.5" y2="708.2" stroke-width="1.22"/>
<line x1="207.5" y1="696.2" x2="207.5" y2="708.2" stroke-width="1.22"/>
<line x1="210" y1="696.2" x2="210" y2="708.2" stroke-width="1.22"/>
<line x1="422.7" y1="696.2" x2="422.7" y2="708.2" stroke-width="1.22"/>
<line x1="429.7" y1="696.2" x2="429.7" y2="708.2" stroke-width="1.22"/>
<line x1="436.8" y1="696.2" x2="436.8" y2="708.2" stroke-width="1.22"/>
<line x1="443.9" y1="696.2" x2="443.9" y2="708.2" stroke-width="1.22"/>
<line x1="450.3" y1="696.2" x2="450.3" y2="708.2" stroke-width="1.22"/>
<rect x="176.4" y="708.2" width="336.6" height="93.6" stroke-width="1.4"/>
<line x1="193.7" y1="708.2" x2="193.7" y2="818.3" stroke-width="1.22"/>
<line x1="202.5" y1="708.2" x2="202.5" y2="818.3" stroke-width="1.22"/>
<line x1="227.4" y1="708.2" x2="227.4" y2="818.3" stroke-width="1.22"/>
<line x1="290.4" y1="708.2" x2="290.4" y2="818.3" stroke-width="1.22"/>
<line x1="340.5" y1="708.2" x2="340.5" y2="818.3" stroke-width="1.22"/>
<line x1="371.3" y1="708.2" x2="371.3" y2="818.3" stroke-width="1.22"/>
<line x1="413.8" y1="708.2" x2="413.8" y2="818.3" stroke-width="1.22"/>
<line x1="436.8" y1="708.2" x2="436.8" y2="818.3" stroke-width="1.22"/>
<line x1="484.6" y1="708.2" x2="484.6" y2="818.3" stroke-width="1.22"/>
<line x1="500.6" y1="708.2" x2="500.6" y2="818.3" stroke-width="1.22"/>
<line x1="509.4" y1="708.2" x2="509.4" y2="818.3" stroke-width="1.22"/>
<line x1="210.1" y1="708.2" x2="210.1" y2="818.3" stroke-width="1.22"/>
<line x1="211.8" y1="708.2" x2="211.8" y2="818.3" stroke-width="1.22"/>
<line x1="263.6" y1="708.2" x2="263.6" y2="818.3" stroke-width="1.22"/>
<polyline points="236.4,708.2 236.4,798 261,798 261,708.2" stroke-width="1.34"/>
<polyline points="302.5,708.2 302.5,798 329.3,798 329.3,708.2" stroke-width="1.34"/>
<polyline points="382,708.2 382,798 410.3,798 410.3,708.2" stroke-width="1.34"/>
<polyline points="456.3,708.2 456.3,798 475,798 475,708.2" stroke-width="1.34"/>
<polyline points="202.5,708.2 202.5,798 210.1,798 210.1,708.2" stroke-width="1.34"/>
<line x1="140" y1="802" x2="509.4" y2="802" stroke-width="1.22"/>
<rect x="288.5" y="1069.4" width="134.1" height="27.4" stroke-width="1.4"/>
<line x1="299.9" y1="1096.8" x2="299.9" y2="1069.4" stroke-width="1.22"/>
<line x1="305.1" y1="1096.8" x2="305.1" y2="1069.4" stroke-width="1.22"/>
<line x1="316.8" y1="1096.8" x2="316.8" y2="1069.4" stroke-width="1.22"/>
<line x1="343.9" y1="1096.8" x2="343.9" y2="1069.4" stroke-width="1.22"/>
<line x1="367.8" y1="1096.8" x2="367.8" y2="1069.4" stroke-width="1.22"/>
<line x1="394.3" y1="1096.8" x2="394.3" y2="1069.4" stroke-width="1.22"/>
<line x1="406.7" y1="1096.8" x2="406.7" y2="1069.4" stroke-width="1.22"/>
<line x1="411.3" y1="1096.8" x2="411.3" y2="1069.4" stroke-width="1.22"/>
<rect x="277.4" y="1054.6" width="156.6" height="14.8" stroke-width="1.4"/>
<rect x="180.5" y="1042.6" width="322.9" height="12" stroke-width="1.4"/>
<line x1="186.8" y1="1054.6" x2="186.8" y2="1042.6" stroke-width="1.22"/>
<line x1="193.7" y1="1054.6" x2="193.7" y2="1042.6" stroke-width="1.22"/>
<line x1="201.5" y1="1054.6" x2="201.5" y2="1042.6" stroke-width="1.22"/>
<line x1="207.5" y1="1054.6" x2="207.5" y2="1042.6" stroke-width="1.22"/>
<line x1="210" y1="1054.6" x2="210" y2="1042.6" stroke-width="1.22"/>
<line x1="422.7" y1="1054.6" x2="422.7" y2="1042.6" stroke-width="1.22"/>
<line x1="429.7" y1="1054.6" x2="429.7" y2="1042.6" stroke-width="1.22"/>
<line x1="436.8" y1="1054.6" x2="436.8" y2="1042.6" stroke-width="1.22"/>
<line x1="443.9" y1="1054.6" x2="443.9" y2="1042.6" stroke-width="1.22"/>
<line x1="450.3" y1="1054.6" x2="450.3" y2="1042.6" stroke-width="1.22"/>
<rect x="176.4" y="949" width="336.6" height="93.6" stroke-width="1.4"/>
<line x1="193.7" y1="1042.6" x2="193.7" y2="932.5" stroke-width="1.22"/>
<line x1="202.5" y1="1042.6" x2="202.5" y2="932.5" stroke-width="1.22"/>
<line x1="227.4" y1="1042.6" x2="227.4" y2="932.5" stroke-width="1.22"/>
<line x1="290.4" y1="1042.6" x2="290.4" y2="932.5" stroke-width="1.22"/>
<line x1="340.5" y1="1042.6" x2="340.5" y2="932.5" stroke-width="1.22"/>
<line x1="371.3" y1="1042.6" x2="371.3" y2="932.5" stroke-width="1.22"/>
<line x1="413.8" y1="1042.6" x2="413.8" y2="932.5" stroke-width="1.22"/>
<line x1="436.8" y1="1042.6" x2="436.8" y2="932.5" stroke-width="1.22"/>
<line x1="484.6" y1="1042.6" x2="484.6" y2="932.5" stroke-width="1.22"/>
<line x1="500.6" y1="1042.6" x2="500.6" y2="932.5" stroke-width="1.22"/>
<line x1="509.4" y1="1042.6" x2="509.4" y2="932.5" stroke-width="1.22"/>
<line x1="210.1" y1="1042.6" x2="210.1" y2="932.5" stroke-width="1.22"/>
<line x1="211.8" y1="1042.6" x2="211.8" y2="932.5" stroke-width="1.22"/>
<line x1="263.6" y1="1042.6" x2="263.6" y2="932.5" stroke-width="1.22"/>
<polyline points="236.4,1042.6 236.4,952.8 261,952.8 261,1042.6" stroke-width="1.34"/>
<polyline points="302.5,1042.6 302.5,952.8 329.3,952.8 329.3,1042.6" stroke-width="1.34"/>
<polyline points="382,1042.6 382,952.8 410.3,952.8 410.3,1042.6" stroke-width="1.34"/>
<polyline points="456.3,1042.6 456.3,952.8 475,952.8 475,1042.6" stroke-width="1.34"/>
<polyline points="202.5,1042.6 202.5,952.8 210.1,952.8 210.1,1042.6" stroke-width="1.34"/>
<line x1="140" y1="948.8" x2="509.4" y2="948.8" stroke-width="1.22"/>
<rect x="164.9" y="818.3" width="388.1" height="114.1" stroke-width="1.46"/>
<line x1="176.4" y1="818.3" x2="176.4" y2="932.4" stroke-width="1.28"/>
<line x1="190.2" y1="818.3" x2="190.2" y2="932.4" stroke-width="1.28"/>
<line x1="202.3" y1="818.3" x2="202.3" y2="932.4" stroke-width="1.28"/>
<line x1="232.5" y1="818.3" x2="232.5" y2="932.4" stroke-width="1.28"/>
<line x1="256.7" y1="818.3" x2="256.7" y2="932.4" stroke-width="1.28"/>
<line x1="280.9" y1="818.3" x2="280.9" y2="932.4" stroke-width="1.28"/>
<line x1="284.4" y1="818.3" x2="284.4" y2="932.4" stroke-width="1.28"/>
<line x1="313.7" y1="818.3" x2="313.7" y2="932.4" stroke-width="1.28"/>
<line x1="326.7" y1="818.3" x2="326.7" y2="932.4" stroke-width="1.28"/>
<line x1="348.3" y1="818.3" x2="348.3" y2="932.4" stroke-width="1.28"/>
<line x1="373.6" y1="818.3" x2="373.6" y2="932.4" stroke-width="1.28"/>
<line x1="378.1" y1="818.3" x2="378.1" y2="932.4" stroke-width="1.28"/>
<line x1="392.6" y1="818.3" x2="392.6" y2="932.4" stroke-width="1.28"/>
<line x1="405.3" y1="818.3" x2="405.3" y2="932.4" stroke-width="1.28"/>
<line x1="437" y1="818.3" x2="437" y2="932.4" stroke-width="1.28"/>
<line x1="467" y1="818.3" x2="467" y2="932.4" stroke-width="1.28"/>
<line x1="497" y1="818.3" x2="497" y2="932.4" stroke-width="1.28"/>
<line x1="533.2" y1="818.3" x2="533.2" y2="932.4" stroke-width="1.28"/>
<line x1="550.4" y1="818.3" x2="550.4" y2="932.4" stroke-width="1.28"/>
<line x1="193.7" y1="818.3" x2="193.7" y2="932.4" stroke-width="0.92" stroke="#555"/>
<line x1="209.2" y1="818.3" x2="209.2" y2="932.4" stroke-width="0.92" stroke="#555"/>
<line x1="259.3" y1="818.3" x2="259.3" y2="932.4" stroke-width="0.92" stroke="#555"/>
<line x1="288.7" y1="818.3" x2="288.7" y2="932.4" stroke-width="0.92" stroke="#555"/>
<line x1="301.6" y1="818.3" x2="301.6" y2="932.4" stroke-width="0.92" stroke="#555"/>
<line x1="318" y1="818.3" x2="318" y2="932.4" stroke-width="0.92" stroke="#555"/>
<line x1="344.8" y1="818.3" x2="344.8" y2="932.4" stroke-width="0.92" stroke="#555"/>
<line x1="408" y1="818.3" x2="408" y2="932.4" stroke-width="0.92" stroke="#555"/>
<line x1="422.5" y1="818.3" x2="422.5" y2="932.4" stroke-width="0.92" stroke="#555"/>
<line x1="452.5" y1="818.3" x2="452.5" y2="932.4" stroke-width="0.92" stroke="#555"/>
<line x1="508.7" y1="818.3" x2="508.7" y2="932.4" stroke-width="0.92" stroke="#555"/>
<line x1="515" y1="818.3" x2="515" y2="932.4" stroke-width="0.92" stroke="#555"/>
<line x1="544" y1="818.3" x2="544" y2="932.4" stroke-width="0.92" stroke="#555"/>
<line x1="356.2" y1="639" x2="356.2" y2="1360" stroke-width="1.22"/>
<polyline points="332.5,1097.2 337.3,1101 337.3,1338.5 373.5,1338.5 377.8,1333.6 377.8,1097.2" stroke-width="1.34"/>
<line x1="337.3" y1="1333.6" x2="377.8" y2="1333.6" stroke-width="1.22"/>
<line x1="189" y1="696" x2="148.6" y2="644.3" stroke-width="1.34"/>
<line x1="214.7" y1="696" x2="164.2" y2="631" stroke-width="1.34"/>
<polyline points="146.3,649 151,636.5 161.8,638 164.2,631 166.5,616.3" stroke-width="1.34"/>
<line x1="131.5" y1="726.7" x2="176.4" y2="731.8" stroke-width="1.34"/>
<line x1="128.4" y1="746.1" x2="176.4" y2="752.3" stroke-width="1.34"/>
<polyline points="129.5,724 132,728 127,733 131.5,740 127,749" stroke-width="1.34"/>
<line x1="72.4" y1="667.6" x2="72.4" y2="1083.2" stroke-width="1.34"/>
<polyline points="76.9,684.6 72.4,667.6 67.9,684.6" stroke-width="1.28"/>
<polyline points="67.9,1066.2 72.4,1083.2 76.9,1066.2" stroke-width="1.28"/>
<line x1="72.4" y1="667.4" x2="270.5" y2="667.4" stroke-width="1.34"/>
<line x1="277.4" y1="667.4" x2="440.4" y2="667.4" stroke-width="1.34"/>
<line x1="72.4" y1="1083.4" x2="270.5" y2="1083.4" stroke-width="1.34"/>
<line x1="277.4" y1="1083.4" x2="440.4" y2="1083.4" stroke-width="1.34"/>
<line x1="110.2" y1="696.7" x2="110.2" y2="1054.1" stroke-width="1.34"/>
<polyline points="114.7,713.7 110.2,696.7 105.7,713.7" stroke-width="1.28"/>
<polyline points="105.7,801.6 110.2,818.6 114.7,801.6" stroke-width="1.28"/>
<polyline points="114.7,835.6 110.2,818.6 105.7,835.6" stroke-width="1.28"/>
<polyline points="105.7,915.2 110.2,932.2 114.7,915.2" stroke-width="1.28"/>
<polyline points="114.7,949.2 110.2,932.2 105.7,949.2" stroke-width="1.28"/>
<polyline points="105.7,1037.1 110.2,1054.1 114.7,1037.1" stroke-width="1.28"/>
<line x1="110.2" y1="696.7" x2="174.3" y2="696.7" stroke-width="1.34"/>
<line x1="110.2" y1="1054.1" x2="174.3" y2="1054.1" stroke-width="1.34"/>
<line x1="110.2" y1="818.6" x2="164.9" y2="818.6" stroke-width="1.34"/>
<line x1="110.2" y1="932.2" x2="164.9" y2="932.2" stroke-width="1.34"/>
<line x1="143.7" y1="802" x2="143.7" y2="948.8" stroke-width="1.34"/>
<polyline points="148.2,819 143.7,802 139.2,819" stroke-width="1.28"/>
<polyline points="139.2,931.8 143.7,948.8 148.2,931.8" stroke-width="1.28"/>
<line x1="582.4" y1="697" x2="582.4" y2="1053.8" stroke-width="1.34"/>
<polyline points="586.9,714 582.4,697 577.9,714" stroke-width="1.28"/>
<polyline points="577.9,1036.8 582.4,1053.8 586.9,1036.8" stroke-width="1.28"/>
<line x1="510" y1="697" x2="588" y2="697" stroke-width="1.34"/>
<line x1="510" y1="1053.8" x2="588" y2="1053.8" stroke-width="1.34"/>
<line x1="624.6" y1="653.6" x2="624.6" y2="1097.2" stroke-width="1.34"/>
<polyline points="629.1,670.6 624.6,653.6 620.1,670.6" stroke-width="1.28"/>
<polyline points="620.1,1080.2 624.6,1097.2 629.1,1080.2" stroke-width="1.28"/>
<line x1="429" y1="653.6" x2="704" y2="653.6" stroke-width="1.34"/>
<line x1="582.4" y1="590" x2="582.4" y2="653.6" stroke-width="1.34"/>
<polyline points="577.9,636.6 582.4,653.6 586.9,636.6" stroke-width="1.28"/>
<line x1="700" y1="653.6" x2="700" y2="1338.5" stroke-width="1.34"/>
<polyline points="704.5,670.6 700,653.6 695.5,670.6" stroke-width="1.28"/>
<polyline points="695.5,1321.5 700,1338.5 704.5,1321.5" stroke-width="1.28"/>
<line x1="428.6" y1="1097.2" x2="625.4" y2="1097.2" stroke-width="1.34"/>
<line x1="583.6" y1="1097.2" x2="583.6" y2="1149" stroke-width="1.34"/>
<polyline points="588.1,1114.2 583.6,1097.2 579.1,1114.2" stroke-width="1.28"/>
<line x1="624.2" y1="1097.2" x2="624.2" y2="1338.5" stroke-width="1.34"/>
<polyline points="628.7,1114.2 624.2,1097.2 619.7,1114.2" stroke-width="1.28"/>
<polyline points="619.7,1321.5 624.2,1338.5 628.7,1321.5" stroke-width="1.28"/>
<line x1="279" y1="1097.6" x2="330.6" y2="1097.6" stroke-width="1.34"/>
<line x1="279.2" y1="1097.6" x2="279.2" y2="1338.5" stroke-width="1.34"/>
<polyline points="283.7,1114.6 279.2,1097.6 274.7,1114.6" stroke-width="1.28"/>
<polyline points="274.7,1321.5 279.2,1338.5 283.7,1321.5" stroke-width="1.28"/>
<line x1="278.4" y1="1338.5" x2="331" y2="1338.5" stroke-width="1.34"/>
<line x1="382" y1="1338.5" x2="702.5" y2="1338.5" stroke-width="1.34"/>
<clipPath id="dclip"><path d="M143.6 1205.94A21.7 21.7 0 1 1 143.6 1229.26Z"/></clipPath>
<g clip-path="url(#dclip)" stroke-width="1.05">
<line x1="74.3" y1="1247.6" x2="134.3" y2="1187.6"/>
<line x1="81.5" y1="1247.6" x2="141.5" y2="1187.6"/>
<line x1="88.7" y1="1247.6" x2="148.7" y2="1187.6"/>
<line x1="95.9" y1="1247.6" x2="155.9" y2="1187.6"/>
<line x1="103.1" y1="1247.6" x2="163.1" y2="1187.6"/>
<line x1="110.3" y1="1247.6" x2="170.3" y2="1187.6"/>
<line x1="117.5" y1="1247.6" x2="177.5" y2="1187.6"/>
<line x1="124.7" y1="1247.6" x2="184.7" y2="1187.6"/>
<line x1="131.9" y1="1247.6" x2="191.9" y2="1187.6"/>
<line x1="139.1" y1="1247.6" x2="199.1" y2="1187.6"/>
<line x1="146.3" y1="1247.6" x2="206.3" y2="1187.6"/>
<line x1="153.5" y1="1247.6" x2="213.5" y2="1187.6"/>
<line x1="160.7" y1="1247.6" x2="220.7" y2="1187.6"/>
<line x1="167.9" y1="1247.6" x2="227.9" y2="1187.6"/>
<line x1="175.1" y1="1247.6" x2="235.1" y2="1187.6"/>
<line x1="182.3" y1="1247.6" x2="242.3" y2="1187.6"/>
<line x1="189.5" y1="1247.6" x2="249.5" y2="1187.6"/>
</g>
<path d="M143.6 1205.94A21.7 21.7 0 1 1 143.6 1229.26Z" stroke-width="1.46"/>
<line x1="127.6" y1="1217.6" x2="189.8" y2="1217.6" stroke-width="1.22"/>
<line x1="161.9" y1="1189.6" x2="161.9" y2="1244.8" stroke-width="1.22"/>
<line x1="102.7" y1="1195.9" x2="161.9" y2="1195.9" stroke-width="1.28"/>
<line x1="102.7" y1="1239.4" x2="161.9" y2="1239.4" stroke-width="1.28"/>
<line x1="102.7" y1="1175" x2="102.7" y2="1195.9" stroke-width="1.28"/>
<line x1="102.7" y1="1239.4" x2="102.7" y2="1300" stroke-width="1.28"/>
<polyline points="98.4,1179.9 102.7,1195.9 107,1179.9" stroke-width="1.28"/>
<polyline points="107,1255.4 102.7,1239.4 98.4,1255.4" stroke-width="1.28"/>
<line x1="143.6" y1="1238" x2="143.6" y2="1270.5" stroke-width="1.28"/>
<line x1="183.6" y1="1218" x2="183.6" y2="1270.5" stroke-width="1.28"/>
<line x1="122.2" y1="1270.5" x2="143.6" y2="1270.5" stroke-width="1.28"/>
<line x1="183.6" y1="1270.5" x2="222.4" y2="1270.5" stroke-width="1.28"/>
<polyline points="127.6,1274.8 143.6,1270.5 127.6,1266.2" stroke-width="1.28"/>
<polyline points="199.6,1266.2 183.6,1270.5 199.6,1274.8" stroke-width="1.28"/>
<rect x="785.5" y="884.3" width="306" height="410.2" stroke-width="1.6"/>
<line x1="870.6" y1="896.6" x2="870.6" y2="949" stroke-width="1.34"/>
<polygon points="862,949 879.2,949 870.6,966.2" stroke-width="1.34"/>
<line x1="950.5" y1="896.6" x2="950.5" y2="949" stroke-width="1.34"/>
<polygon points="941.9,949 959.1,949 950.5,966.2" stroke-width="1.34"/>
<circle cx="870.6" cy="984.4" r="4.4" stroke-width="1.34"/>
<circle cx="950.5" cy="985" r="4.4" stroke-width="1.34"/>
<line x1="870.6" y1="988.8" x2="870.6" y2="1088.4" stroke-width="1.34"/>
<circle cx="870.6" cy="1092.8" r="4.4" stroke-width="1.34"/>
<line x1="870.6" y1="1097.2" x2="870.6" y2="1132.8" stroke-width="1.34"/>
<rect x="859.6" y="1132.8" width="22.1" height="21.6" stroke-width="1.34"/>
<line x1="859.6" y1="1132.8" x2="881.7" y2="1154.4" stroke-width="1.34"/>
<line x1="870.6" y1="1154.4" x2="870.6" y2="1189.2" stroke-width="1.34"/>
<circle cx="870.6" cy="1193.6" r="4.4" stroke-width="1.34"/>
<line x1="870.6" y1="1198" x2="870.6" y2="1247" stroke-width="1.34"/>
<polyline points="870.6,1247 944.4,1247 947.28,1239 953.05,1255 958.82,1239 964.58,1255 970.35,1239 976.12,1255 979,1247 1065.2,1247" stroke-width="1.34"/>
<circle cx="1069.6" cy="1247" r="4.4" stroke-width="1.34"/>
<line x1="950.5" y1="989.4" x2="950.5" y2="1189.2" stroke-width="1.34"/>
<circle cx="950.5" cy="1193.6" r="4.4" stroke-width="1.34"/>
<polyline points="875,1193.6 879.5,1193.6 882.38,1185.6 888.12,1201.6 893.88,1185.6 899.62,1201.6 905.38,1185.6 911.12,1201.6 914,1193.6 946.1,1193.6" stroke-width="1.34"/>
<polyline points="954.9,1193.6 1022.6,1193.6 1022.6,985 1038.4,985" stroke-width="1.34"/>
<line x1="1038.4" y1="968" x2="1038.4" y2="1002" stroke-width="2.2"/>
<line x1="1054.4" y1="968" x2="1054.4" y2="1002" stroke-width="2.2"/>
<polyline points="1054.4,985 1069.6,985 1069.6,1242.6" stroke-width="1.34"/>
<polyline points="904.3,1000.2 904.3,1110.7 882.2,1131.4" stroke-width="1.28"/>
<polygon points="888.95,1119.59 882.2,1131.4 894.42,1125.43" stroke-width="1.28" fill="none"/>
<path d="M492 1413.2L287.6 1413.2C283.6 1418.25 290.6 1422.29 287.6 1423.3C284.6 1425.32 284.6 1430.37 287.6 1433.4L492 1433.4Z" stroke-width="1.46"/>
<line x1="290.6" y1="1413.2" x2="291.1" y2="1419.26" stroke-width="0.98"/>
<polyline points="491.56,1413.56 538.85,1397.32" stroke-width="1.34"/>
<polyline points="493.44,1419.04 540.73,1402.8" stroke-width="1.34"/>
<path d="M538.85 1397.32Q542.15 1399.25 540.73 1402.8" stroke-width="1.34"/>
<polyline points="607.46,1373.76 543.58,1395.69" stroke-width="1.34"/>
<polyline points="545.46,1401.18 609.34,1379.24" stroke-width="1.34"/>
<path d="M543.58 1395.69Q542.15 1399.25 545.46 1401.18" stroke-width="1.34"/>
<polyline points="607.46,1373.76 609.34,1379.24" stroke-width="1.34"/>
<line x1="501.01" y1="1416.44" x2="504.8" y2="1409.01" stroke-width="1.1"/>
<line x1="521.82" y1="1409.3" x2="525.61" y2="1401.87" stroke-width="1.1"/>
<line x1="553.97" y1="1398.26" x2="557.76" y2="1390.82" stroke-width="1.1"/>
<line x1="571" y1="1392.41" x2="574.79" y2="1384.98" stroke-width="1.1"/>
<polyline points="581.64,1383.39 607.69,1374.44" stroke-width="1.1"/>
<polyline points="583.06,1387.5 609.11,1378.56" stroke-width="1.1"/>
<polyline points="583.06,1387.5 584.67,1382.35 589.11,1385.42 590.72,1380.27 595.16,1383.35 596.78,1378.19 601.22,1381.27 602.83,1376.11 607.27,1379.19" stroke-width="0.98"/>
<line x1="576.68" y1="1387.39" x2="582.35" y2="1385.45" stroke-width="1.1"/>
<polyline points="492.5,1420 541.5,1420" stroke-width="1.34"/>
<polyline points="492.5,1426.8 541.5,1426.8" stroke-width="1.34"/>
<path d="M541.5 1420Q544 1423.4 541.5 1426.8" stroke-width="1.34"/>
<polyline points="617.3,1420 546.5,1420" stroke-width="1.34"/>
<polyline points="546.5,1426.8 617.3,1426.8" stroke-width="1.34"/>
<path d="M546.5 1420Q544 1423.4 546.5 1426.8" stroke-width="1.34"/>
<polyline points="617.3,1420 617.3,1426.8" stroke-width="1.34"/>
<polyline points="592.5,1420.85 617.3,1420.85" stroke-width="1.1"/>
<polyline points="592.5,1425.95 617.3,1425.95" stroke-width="1.1"/>
<polyline points="592.5,1425.95 595.7,1420.85 598.9,1425.95 602.1,1420.85 605.3,1425.95 608.5,1420.85 611.7,1425.95 614.9,1420.85" stroke-width="0.98"/>
<line x1="586.5" y1="1423.4" x2="592.5" y2="1423.4" stroke-width="1.1"/>
<polyline points="493.44,1427.56 539.8,1443.44" stroke-width="1.34"/>
<polyline points="491.56,1433.04 537.92,1448.92" stroke-width="1.34"/>
<path d="M539.8 1443.44Q541.22 1446.99 537.92 1448.92" stroke-width="1.34"/>
<polyline points="609.34,1467.26 544.53,1445.06" stroke-width="1.34"/>
<polyline points="542.65,1450.54 607.46,1472.74" stroke-width="1.34"/>
<path d="M544.53 1445.06Q541.22 1446.99 542.65 1450.54" stroke-width="1.34"/>
<polyline points="609.34,1467.26 607.46,1472.74" stroke-width="1.34"/>
<polyline points="583.08,1459.03 609.1,1467.94" stroke-width="1.1"/>
<polyline points="581.67,1463.14 607.7,1472.06" stroke-width="1.1"/>
<polyline points="581.67,1463.14 586.11,1460.06 587.72,1465.22 592.16,1462.14 593.78,1467.29 598.22,1464.21 599.83,1469.36 604.27,1466.29 605.89,1471.44" stroke-width="0.98"/>
<line x1="576.7" y1="1459.14" x2="582.37" y2="1461.09" stroke-width="1.1"/>
<line x1="492" y1="1438" x2="492" y2="1479.4" stroke-width="1.28"/>
<line x1="287.6" y1="1479.4" x2="492" y2="1479.4" stroke-width="1.28"/>
<polyline points="297.6,1476.6 287.6,1479.4 297.6,1482.2" stroke-width="1.28"/>
<polyline points="482,1482.2 492,1479.4 482,1476.6" stroke-width="1.28"/>
<line x1="617.3" y1="1433" x2="617.3" y2="1530.5" stroke-width="1.28"/>
<line x1="287.6" y1="1530.5" x2="617.3" y2="1530.5" stroke-width="1.28"/>
<polyline points="297.6,1527.7 287.6,1530.5 297.6,1533.3" stroke-width="1.28"/>
<polyline points="607.3,1533.3 617.3,1530.5 607.3,1527.7" stroke-width="1.28"/>
<path d="M862.5 1424.6L709.2 1424.6C705.2 1429.55 712.2 1433.51 709.2 1434.5C706.2 1436.48 706.2 1441.43 709.2 1444.4L862.5 1444.4Z" stroke-width="1.46"/>
<line x1="712.2" y1="1424.6" x2="712.7" y2="1430.54" stroke-width="0.98"/>
<polyline points="861.71,1426.1 910.17,1413.76" stroke-width="1.34"/>
<polyline points="863.29,1432.3 911.74,1419.97" stroke-width="1.34"/>
<path d="M910.17 1413.76Q913.38 1416.25 911.74 1419.97" stroke-width="1.34"/>
<polyline points="955.21,1402.3 915.01,1412.53" stroke-width="1.34"/>
<polyline points="916.59,1418.73 956.79,1408.5" stroke-width="1.34"/>
<path d="M915.01 1412.53Q913.38 1416.25 916.59 1418.73" stroke-width="1.34"/>
<polyline points="955.21,1402.3 956.79,1408.5" stroke-width="1.34"/>
<polyline points="863.29,1436.7 911.74,1449.03" stroke-width="1.34"/>
<polyline points="861.71,1442.9 910.17,1455.24" stroke-width="1.34"/>
<path d="M911.74 1449.03Q913.38 1452.75 910.17 1455.24" stroke-width="1.34"/>
<polyline points="956.79,1460.5 916.59,1450.27" stroke-width="1.34"/>
<polyline points="915.01,1456.47 955.21,1466.7" stroke-width="1.34"/>
<path d="M916.59 1450.27Q913.38 1452.75 915.01 1456.47" stroke-width="1.34"/>
<polyline points="956.79,1460.5 955.21,1466.7" stroke-width="1.34"/>
<polygon points="951.89,1392.75 1029.35,1372.71 1036.11,1398.85 958.65,1418.89" stroke-width="1.34"/>
<polygon points="958.02,1400.46 969.64,1397.45 971.89,1406.17 960.27,1409.17" stroke-width="1.22"/>
<line x1="986.75" y1="1383.73" x2="993.51" y2="1409.87" stroke-width="1.22"/>
<path d="M970.01 1398.9L985.5 1394.9Q995.19 1392.39 995.12 1384.15" stroke-width="1.22"/>
<path d="M971.52 1404.71L987.01 1400.71Q996.69 1398.2 1000.63 1405.45" stroke-width="1.22"/>
<polyline points="995.12,1384.15 1026.1,1376.14 1028.1,1383.88 1002.93,1390.39" stroke-width="1.22"/>
<polyline points="1000.63,1405.45 1031.61,1397.44 1029.6,1389.69 1004.43,1396.2" stroke-width="1.22"/>
<line x1="1012.55" y1="1379.64" x2="1018.05" y2="1400.94" stroke-width="1.1"/>
<line x1="1016.42" y1="1378.64" x2="1021.93" y2="1399.94" stroke-width="1.1"/>
<polygon points="958.65,1450.11 1036.11,1470.15 1029.35,1496.29 951.89,1476.25" stroke-width="1.34"/>
<polygon points="960.27,1459.83 971.89,1462.83 969.64,1471.55 958.02,1468.54" stroke-width="1.22"/>
<line x1="993.51" y1="1459.13" x2="986.75" y2="1485.27" stroke-width="1.22"/>
<path d="M971.52 1464.29L987.01 1468.29Q996.69 1470.8 1000.63 1463.55" stroke-width="1.22"/>
<path d="M970.01 1470.1L985.5 1474.1Q995.19 1476.61 995.12 1484.85" stroke-width="1.22"/>
<polyline points="1000.63,1463.55 1031.61,1471.56 1029.6,1479.31 1004.43,1472.8" stroke-width="1.22"/>
<polyline points="995.12,1484.85 1026.1,1492.86 1028.1,1485.12 1002.93,1478.61" stroke-width="1.22"/>
<line x1="1018.05" y1="1468.06" x2="1012.55" y2="1489.36" stroke-width="1.1"/>
<line x1="1021.93" y1="1469.06" x2="1016.42" y2="1490.36" stroke-width="1.1"/>
<polyline points="784.2,1329.4 1001.5,1329.4 1020.7,1372" stroke-width="1.28"/>
<polygon points="1011.89,1361.71 1020.7,1372 1018.82,1358.59" stroke-width="1.28" fill="none"/>
<line x1="862.5" y1="1450" x2="862.5" y2="1488.5" stroke-width="1.28"/>
<line x1="711" y1="1488.5" x2="862.5" y2="1488.5" stroke-width="1.28"/>
<polyline points="721,1485.7 711,1488.5 721,1491.3" stroke-width="1.28"/>
<polyline points="852.5,1491.3 862.5,1488.5 852.5,1485.7" stroke-width="1.28"/>
<line x1="1035" y1="1473" x2="1035" y2="1529.4" stroke-width="1.28"/>
<line x1="717" y1="1529.4" x2="1035" y2="1529.4" stroke-width="1.28"/>
<polyline points="727,1526.6 717,1529.4 727,1532.2" stroke-width="1.28"/>
<polyline points="1025,1532.2 1035,1529.4 1025,1526.6" stroke-width="1.28"/>
</g>
</svg>
</body></html>
